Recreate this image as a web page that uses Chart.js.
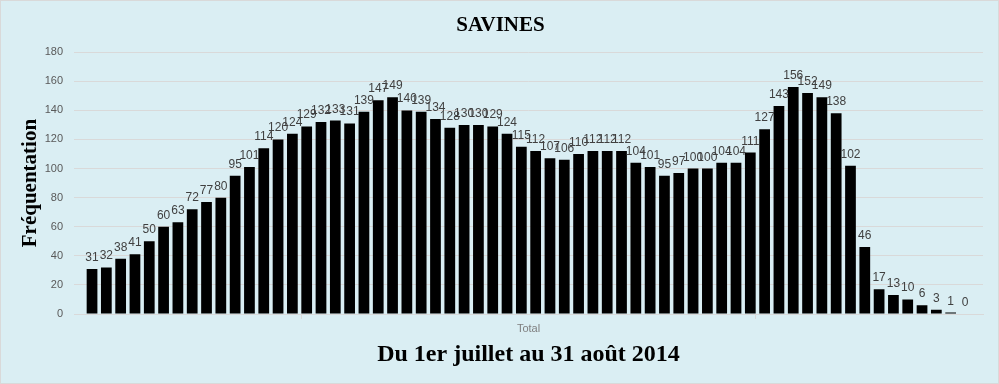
<!DOCTYPE html>
<html>
<head>
<meta charset="utf-8">
<script src="https://cdn.jsdelivr.net/npm/chart.js@4.4.0/dist/chart.umd.min.js"></script>
<style>
html,body{margin:0;padding:0;background:#DAEEF3;}
canvas{display:block;}
</style>
</head>
<body>
<canvas id="c" width="999" height="384"></canvas>
<script>
const chartTitle = "SAVINES";
const periodLabel = "Du 1er juillet au 31 août 2014";
const categoryLabel = "Total";
const yAxisTitle = "Fréquentation";
const days = Array.from({length: 62}, (_, i) => i + 1); // 1 Jul .. 31 Aug
const visits = [31,32,38,41,50,60,63,72,77,80,
                95,101,114,120,124,129,132,133,131,139,
                147,149,140,139,134,128,130,130,129,124,
                115,112,107,106,110,112,112,112,104,101,
                95,97,100,100,104,104,111,127,143,156,
                152,149,138,102,46,17,13,10,6,3,
                1,0];
const yTicks = [0,20,40,60,80,100,120,140,160,180];

const bgPlugin = {
  id: 'bg',
  beforeDraw(chart) {
    const ctx = chart.ctx;
    ctx.save();
    ctx.fillStyle = '#DAEEF3';
    ctx.fillRect(0, 0, chart.width, chart.height);
    ctx.strokeStyle = '#D9D9D9';
    ctx.lineWidth = 1;
    ctx.strokeRect(0.5, 0.5, chart.width - 1, chart.height - 1);
    ctx.restore();
  }
};

const labelPlugin = {
  id: 'valueLabels',
  afterDatasetsDraw(chart) {
    const ctx = chart.ctx;
    const meta = chart.getDatasetMeta(0);
    ctx.save();
    ctx.font = '12px "Liberation Sans Narrow", "Liberation Sans", sans-serif';
    ctx.fillStyle = '#404040';
    ctx.textAlign = 'center';
    ctx.textBaseline = 'alphabetic';
    meta.data.forEach((el, i) => {
      ctx.fillText(String(visits[i]), el.x, el.y - 8);
    });
    ctx.restore();
  }
};

const xMin = 1 - 1.26, xMax = 62 + 1.26;

new Chart(document.getElementById('c'), {
  type: 'bar',
  data: {
    datasets: [{
      data: days.map((d, i) => ({x: d, y: visits[i]})),
      backgroundColor: '#000000',
      borderWidth: 0,
      barPercentage: 0.75,
      categoryPercentage: 1.0
    }]
  },
  options: {
    responsive: false,
    animation: false,
    layout: { padding: { left: 18, right: 16, top: 0, bottom: 15 } },
    plugins: {
      legend: { display: false },
      tooltip: { enabled: false },
      title: {
        display: true,
        text: chartTitle,
        color: '#000000',
        font: { family: '"Liberation Serif", serif', size: 21, weight: 'bold' },
        padding: { top: 13, bottom: 14 }
      },
      subtitle: {
        display: true,
        position: 'bottom',
        fullSize: false,
        text: periodLabel,
        color: '#000000',
        font: { family: '"Liberation Serif", serif', size: 24, weight: 'bold' },
        padding: { top: 5, bottom: 0 }
      }
    },
    scales: {
      x: {
        type: 'linear',
        min: xMin,
        max: xMax,
        offset: false,
        afterBuildTicks(scale) {
          scale.ticks = [{value: xMin}, {value: (xMin + xMax) / 2}, {value: xMax}];
        },
        grid: { drawOnChartArea: false, drawTicks: true, tickLength: 5, color: '#D9D9D9' },
        border: { color: '#D9D9D9' },
        ticks: { display: false },
        title: {
          display: true,
          text: categoryLabel,
          color: '#7F7F7F',
          font: { family: '"Liberation Sans", sans-serif', size: 11 },
          padding: { top: 3, bottom: 0 }
        }
      },
      y: {
        min: 0,
        max: 180,
        afterBuildTicks(scale) {
          scale.ticks = yTicks.map(v => ({value: v}));
        },
        afterFit(scale) { scale.width = 74 - 18; },
        grid: { color: '#D9D9D9', drawTicks: false },
        border: { display: false },
        ticks: {
          color: '#595959',
          font: { family: '"Liberation Sans", sans-serif', size: 11 },
          padding: 11
        },
        title: {
          display: true,
          text: yAxisTitle,
          color: '#000000',
          font: { family: '"Liberation Serif", serif', size: 21, weight: 'bold' },
          padding: { top: 0, bottom: 0 }
        }
      }
    }
  },
  plugins: [bgPlugin, labelPlugin]
});
</script>
</body>
</html>
